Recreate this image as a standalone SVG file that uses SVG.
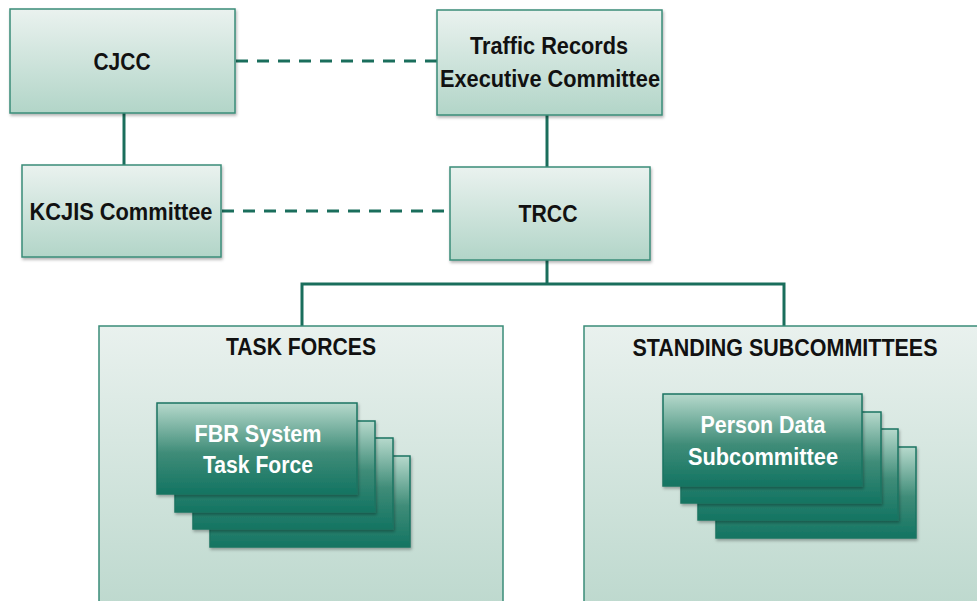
<svg xmlns="http://www.w3.org/2000/svg" width="977" height="601" viewBox="0 0 977 601">
<defs>
<linearGradient id="gLight" x1="0" y1="0" x2="0" y2="1">
<stop offset="0" stop-color="#eaf2ef"/>
<stop offset="1" stop-color="#b2d5c8"/>
</linearGradient>
<linearGradient id="gBig" x1="0" y1="0" x2="0" y2="1">
<stop offset="0" stop-color="#e9f1ee"/>
<stop offset="1" stop-color="#bcd8cd"/>
</linearGradient>
<linearGradient id="gDark" x1="0" y1="0" x2="0" y2="1">
<stop offset="0" stop-color="#b6d9cc"/>
<stop offset="0.55" stop-color="#3f8c78"/>
<stop offset="1" stop-color="#137462"/>
</linearGradient>
<filter id="sh" x="-5%" y="-5%" width="115%" height="120%">
<feDropShadow dx="1" dy="2" stdDeviation="1.5" flood-color="#000" flood-opacity="0.3"/>
</filter>
</defs>
<style>
.box{fill:url(#gLight);stroke:#3a8c78;stroke-width:1.5;filter:url(#sh)}
.big{fill:url(#gBig);stroke:#3a8c78;stroke-width:1.5}
.stk{fill:url(#gDark);stroke:#1b7462;stroke-width:1.5;filter:url(#sh)}
.t{font-family:"Liberation Sans",Arial,sans-serif;font-weight:bold;font-size:24px;fill:#111;text-anchor:middle}
.w{font-family:"Liberation Sans",Arial,sans-serif;font-weight:bold;font-size:24px;fill:#fff;text-anchor:middle}
.ln{stroke:#1a6e5c;stroke-width:3;fill:none}
.dash{stroke:#1a6e5c;stroke-width:3;fill:none;stroke-dasharray:12 9}
</style>
<rect width="977" height="601" fill="#ffffff"/>
<g id="connectors">
<line class="dash" x1="236" y1="61" x2="437" y2="61"/>
<line class="dash" x1="222" y1="211" x2="450" y2="211"/>
<line class="ln" x1="124" y1="113" x2="124" y2="165"/>
<line class="ln" x1="547" y1="115" x2="547" y2="167"/>
<line class="ln" x1="547" y1="260" x2="547" y2="284"/>
<polyline class="ln" points="302,327 302,284 784,284 784,327"/>
</g>
<g id="cjcc">
<rect class="box" x="10" y="9" width="225" height="104"/>
<text class="t" x="122" y="70" textLength="57" lengthAdjust="spacingAndGlyphs">CJCC</text>
</g>
<g id="trec">
<rect class="box" x="437" y="10" width="225" height="105"/>
<text class="t" x="549" y="54" textLength="158" lengthAdjust="spacingAndGlyphs">Traffic Records</text>
<text class="t" x="550" y="87" textLength="220" lengthAdjust="spacingAndGlyphs">Executive Committee</text>
</g>
<g id="kcjis">
<rect class="box" x="22" y="165" width="199" height="92"/>
<text class="t" x="121" y="220" textLength="183" lengthAdjust="spacingAndGlyphs">KCJIS Committee</text>
</g>
<g id="trcc">
<rect class="box" x="450" y="167" width="200" height="93"/>
<text class="t" x="548" y="222" textLength="59" lengthAdjust="spacingAndGlyphs">TRCC</text>
</g>
<g id="task-forces">
<rect class="big" x="99" y="326" width="404" height="290"/>
<text class="t" x="301" y="355" textLength="150" lengthAdjust="spacingAndGlyphs">TASK FORCES</text>
</g>
<g id="standing-subcommittees">
<rect class="big" x="584" y="326" width="400" height="290"/>
<text class="t" x="785" y="356" textLength="305" lengthAdjust="spacingAndGlyphs">STANDING SUBCOMMITTEES</text>
</g>
<g id="fbr-task-force">
<rect class="stk" x="210" y="456" width="200" height="91"/>
<rect class="stk" x="193" y="438" width="200" height="91"/>
<rect class="stk" x="175" y="421" width="200" height="91"/>
<rect class="stk" x="157" y="403" width="200" height="91"/>
<text class="w" x="258" y="442" textLength="127" lengthAdjust="spacingAndGlyphs">FBR System</text>
<text class="w" x="258" y="473" textLength="110" lengthAdjust="spacingAndGlyphs">Task Force</text>
</g>
<g id="person-data-subcommittee">
<rect class="stk" x="716" y="447" width="200" height="91"/>
<rect class="stk" x="698" y="429" width="200" height="91"/>
<rect class="stk" x="681" y="412" width="200" height="91"/>
<rect class="stk" x="663" y="394" width="199" height="92"/>
<text class="w" x="763" y="433" textLength="125" lengthAdjust="spacingAndGlyphs">Person Data</text>
<text class="w" x="763" y="465" textLength="150" lengthAdjust="spacingAndGlyphs">Subcommittee</text>
</g>
</svg>
